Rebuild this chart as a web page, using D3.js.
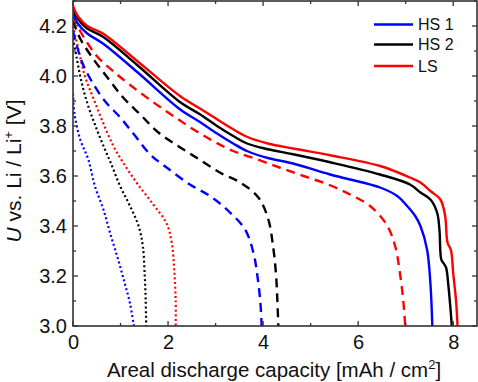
<!DOCTYPE html>
<html><head><meta charset="utf-8">
<script src="https://cdn.jsdelivr.net/npm/d3@7"></script>
<style>body{margin:0;background:#fff}svg{display:block}text{font-family:"Liberation Sans",Arial,sans-serif;fill:#111}</style>
</head><body><svg id="c" width="478" height="382"></svg>
<script>
const xTicks = [0, 2, 4, 6, 8];
const yTicks = [3.0, 3.2, 3.4, 3.6, 3.8, 4.0, 4.2];
const legendNames = ["HS 1", "HS 2", "LS"];
const colors = {"HS 1": "#0000ff", "HS 2": "#000000", "LS": "#ff0000"};

// [capacity, voltage]
const hs1Solid = [[0,4.25],[0.1,4.21],[0.3,4.17],[0.63,4.13],[1.35,4.016],[2.25,3.867],[2.67,3.816],[3.03,3.77],[3.37,3.73],[3.66,3.70],[4.1,3.672],[4.63,3.65],[5.41,3.606],[6.46,3.554],[6.82,3.52],[7.03,3.48],[7.2,3.44],[7.31,3.40],[7.45,3.305],[7.52,3.17],[7.56,3.0]];
const hs2Solid = [[0,4.27],[0.1,4.23],[0.3,4.19],[0.63,4.157],[1.35,4.044],[2.25,3.896],[2.67,3.847],[3.03,3.80],[3.37,3.76],[3.66,3.73],[4.1,3.707],[4.63,3.687],[5.41,3.655],[6.46,3.606],[7.09,3.566],[7.31,3.534],[7.52,3.506],[7.66,3.454],[7.71,3.385],[7.75,3.265],[7.8,3.25],[7.85,3.233],[7.9,3.158],[7.95,3.05],[7.97,3.0]];
const lsSolid = [[0,4.28],[0.1,4.24],[0.3,4.20],[0.63,4.17],[1.35,4.06],[2.25,3.92],[2.67,3.87],[3.03,3.827],[3.37,3.787],[3.66,3.757],[4.1,3.73],[4.63,3.71],[5.41,3.683],[6.46,3.64],[7.09,3.594],[7.31,3.574],[7.52,3.54],[7.73,3.506],[7.83,3.44],[7.88,3.333],[7.95,3.305],[8.0,3.21],[8.06,3.10],[8.09,3.0]];
const hs1Dash = [[0,4.18],[0.18,4.06],[0.39,3.98],[0.67,3.90],[0.99,3.835],[1.31,3.76],[1.62,3.687],[1.97,3.634],[2.46,3.566],[2.88,3.52],[3.27,3.46],[3.62,3.386],[3.8,3.29],[3.88,3.20],[3.94,3.10],[3.97,3.0]];
const hs2Dash = [[0,4.22],[0.15,4.15],[0.42,4.07],[0.74,3.99],[1.05,3.915],[1.41,3.847],[1.79,3.775],[2.21,3.72],[2.65,3.667],[3.09,3.614],[3.52,3.574],[3.9,3.514],[4.11,3.426],[4.21,3.318],[4.27,3.21],[4.3,3.10],[4.32,3.0]];
const lsDash = [[0,4.24],[0.15,4.18],[0.5,4.08],[0.84,4.02],[1.23,3.96],[1.69,3.895],[2.11,3.84],[2.53,3.787],[2.95,3.74],[3.37,3.70],[3.87,3.667],[4.36,3.633],[4.85,3.60],[5.37,3.566],[5.83,3.526],[6.25,3.48],[6.6,3.405],[6.78,3.318],[6.88,3.21],[6.95,3.10],[6.99,3.0]];
const hs1Dot = [[0,3.93],[0.03,3.85],[0.15,3.747],[0.32,3.667],[0.46,3.56],[0.64,3.466],[0.78,3.372],[0.95,3.265],[1.09,3.17],[1.2,3.09],[1.28,3.0]];
const hs2Dot = [[0,4.15],[0.08,4.07],[0.18,3.975],[0.32,3.88],[0.5,3.787],[0.67,3.707],[0.8,3.65],[0.99,3.56],[1.2,3.48],[1.38,3.40],[1.47,3.318],[1.51,3.20],[1.53,3.10],[1.54,3.0]];
const lsDot = [[0,4.2],[0.11,4.11],[0.25,4.0],[0.43,3.91],[0.64,3.81],[0.85,3.72],[1.05,3.655],[1.34,3.573],[1.69,3.486],[1.97,3.41],[2.08,3.33],[2.13,3.225],[2.16,3.10],[2.16,3.0]];

const series = [
  {name:"HS 1", style:"dot", data:hs1Dot},
  {name:"HS 2", style:"dot", data:hs2Dot},
  {name:"LS", style:"dot", data:lsDot},
  {name:"HS 1", style:"dash", data:hs1Dash},
  {name:"HS 2", style:"dash", data:hs2Dash},
  {name:"LS", style:"dash", data:lsDash},
  {name:"HS 1", style:"solid", data:hs1Solid},
  {name:"HS 2", style:"solid", data:hs2Solid},
  {name:"LS", style:"solid", data:lsSolid}
];

const L = 73, R = 477, T = 1, B = 326;
const svg = d3.select("#c");
const x = d3.scaleLinear().domain([0, 8.5]).range([L, R]);
const y = d3.scaleLinear().domain([3.0, 4.3]).range([B, T]);

const defs = svg.append("defs");
defs.append("clipPath").attr("id","clip").append("rect").attr("x",L).attr("y",T).attr("width",R-L).attr("height",B-T);

const line = d3.line().x(d=>x(d[0])).y(d=>y(d[1])).curve(d3.curveCatmullRom.alpha(0.5));
const g = svg.append("g").attr("clip-path","url(#clip)");
series.forEach(s=>{
  const p = g.append("path").attr("d", line(s.data)).attr("fill","none")
    .attr("stroke", colors[s.name]).attr("stroke-width", s.style==="dot"?2.2:2.4);
  if (s.style==="dash") p.attr("stroke-dasharray","9,6");
  if (s.style==="dot") p.attr("stroke-dasharray","2,2.6");
});

// axes (box with inward ticks)
const axCol = "#333";
const xMinor = d3.range(0, 8.51, 1);
const yMinor = d3.range(3.0, 4.301, 0.1);
const ax = svg.append("g");
const bottom = d3.axisBottom(x).tickValues(xTicks).tickSize(0).tickPadding(9).tickFormat(d3.format("d"));
const gb = ax.append("g").attr("transform",`translate(0,${B})`).call(bottom);
gb.select(".domain").remove();
gb.selectAll("text").attr("font-size",20).style("font-family","'Liberation Sans',Arial,sans-serif").attr("fill","#111");
const left = d3.axisLeft(y).tickValues(yTicks).tickSize(0).tickPadding(6).tickFormat(d3.format(".1f"));
const gl = ax.append("g").attr("transform",`translate(${L},0)`).call(left);
gl.select(".domain").remove();
gl.selectAll("text").attr("font-size",20).style("font-family","'Liberation Sans',Arial,sans-serif").attr("fill","#111");

const tk = ax.append("g").attr("stroke",axCol).attr("stroke-width",1.3);
xMinor.forEach(v=>{
  const len = v%2===0 ? 5 : 3;
  tk.append("line").attr("x1",x(v)).attr("x2",x(v)).attr("y1",B).attr("y2",B-len);
  tk.append("line").attr("x1",x(v)).attr("x2",x(v)).attr("y1",T).attr("y2",T+len);
});
yMinor.forEach(v=>{
  const major = Math.round(v*10)%2===0;
  const len = major?5:3;
  tk.append("line").attr("x1",L).attr("x2",L+len).attr("y1",y(v)).attr("y2",y(v));
  tk.append("line").attr("x1",R).attr("x2",R-len).attr("y1",y(v)).attr("y2",y(v));
});
ax.append("rect").attr("x",L).attr("y",T).attr("width",R-L).attr("height",B-T)
  .attr("fill","none").attr("stroke",axCol).attr("stroke-width",1.6);

// axis titles
const xt = svg.append("text").attr("x",274).attr("y",377).attr("text-anchor","middle").attr("font-size",20.5);
xt.append("tspan").text("Areal discharge capacity [mAh / cm");
xt.append("tspan").attr("font-size",13).attr("dy",-8).text("2");
xt.append("tspan").attr("dy",8).text("]");

const yt = svg.append("text").attr("transform",`translate(21,171) rotate(-90)`).attr("text-anchor","middle").attr("font-size",21);
yt.append("tspan").attr("font-style","italic").text("U");
yt.append("tspan").text(" vs. Li / Li");
yt.append("tspan").attr("font-size",13).attr("dy",-8).text("+");
yt.append("tspan").attr("dy",8).text(" [V]");

// legend
const lg = svg.append("g");
legendNames.forEach((n,i)=>{
  const yy = [24.5,44.5,66][i];
  lg.append("line").attr("x1",374).attr("x2",413).attr("y1",yy).attr("y2",yy).attr("stroke",colors[n]).attr("stroke-width",2.4);
  lg.append("text").attr("x",418).attr("y",yy+5.5).attr("font-size",16).text(n);
});
</script></body></html>
